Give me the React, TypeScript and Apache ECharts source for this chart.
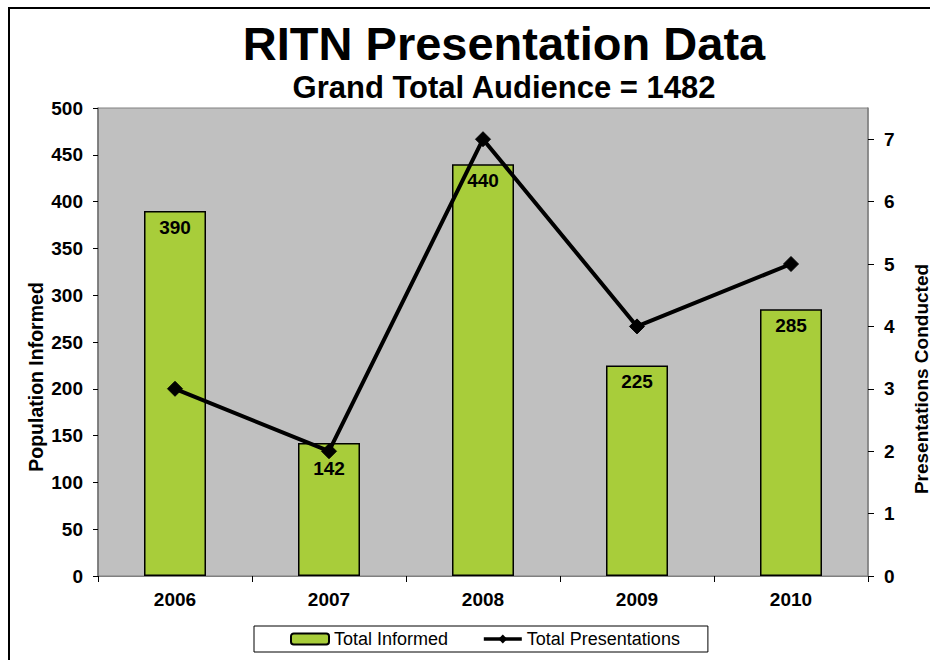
import React, { useEffect, useRef } from "react";
import * as echarts from "echarts";

const categories = ["2006", "2007", "2008", "2009", "2010"];
const totalInformed = [390, 142, 440, 225, 285];
const totalPresentations = [3, 2, 7, 4, 5];
const rightTicks = [0, 1, 2, 3, 4, 5, 6, 7];

const FONT = "'Liberation Sans', Arial, sans-serif";

export default function App() {
  const ref = useRef<HTMLDivElement>(null);
  useEffect(() => {
    if (!ref.current) return;
    const chart = echarts.init(ref.current, undefined, { renderer: "svg" });
    const option: any = {
      animation: false,
      backgroundColor: "#ffffff",
      textStyle: { fontFamily: FONT, color: "#000" },
      grid: {
        left: 98,
        right: 62,
        top: 108,
        bottom: 84,
        show: true,
        backgroundColor: "#c0c0c0",
        borderColor: "#808080",
        borderWidth: 1,
      },
      legend: {
        left: 254,
        top: 626,
        orient: "horizontal",
        borderColor: "#000",
        borderWidth: 1,
        padding: [4, 28, 4, 36],
        itemWidth: 38,
        itemHeight: 11,
        itemGap: 34,
        textStyle: { fontSize: 18, fontFamily: FONT, color: "#000" },
        data: [
          { name: "Total Informed" },
          { name: "Total Presentations", lineStyle: { width: 3.5, color: "#000" } },
        ],
      },
      xAxis: {
        type: "category",
        data: categories,
        boundaryGap: true,
        axisLine: { show: true, lineStyle: { color: "#808080", width: 1 } },
        axisTick: { show: true, length: 6, lineStyle: { color: "#000" } },
        axisLabel: { fontSize: 19, fontWeight: "bold", color: "#000", margin: 14, fontFamily: FONT },
        splitLine: { show: false },
      },
      yAxis: [
        {
          type: "value",
          min: 0,
          max: 500,
          interval: 50,
          position: "left",
          axisLine: { show: true, lineStyle: { color: "#707070", width: 1.5 } },
          axisTick: { show: true, length: 5, lineStyle: { color: "#000" } },
          axisLabel: { fontSize: 19, fontWeight: "bold", color: "#000", margin: 15, fontFamily: FONT },
          splitLine: { show: false },
        },
        {
          type: "value",
          min: 0,
          max: 7.5,
          position: "right",
          axisLine: { show: true, lineStyle: { color: "#808080", width: 1.5 } },
          axisTick: { show: true, length: 6, lineStyle: { color: "#000" }, customValues: rightTicks },
          axisLabel: { fontSize: 19, fontWeight: "bold", color: "#000", margin: 16, fontFamily: FONT, customValues: rightTicks },
          splitLine: { show: false },
        },
      ],
      series: [
        {
          name: "Total Informed",
          type: "bar",
          yAxisIndex: 0,
          barWidth: 62,
          data: totalInformed.map((v, i) =>
            i === 1 ? { value: v, label: { distance: 16 } } : v
          ),
          itemStyle: { color: "#a8cd3a", borderColor: "#000", borderWidth: 1.5 },
          label: {
            show: true,
            position: "insideTop",
            distance: 7,
            fontSize: 19,
            fontWeight: "bold",
            color: "#000",
            fontFamily: FONT,
          },
          z: 2,
        },
        {
          name: "Total Presentations",
          type: "line",
          yAxisIndex: 1,
          data: totalPresentations,
          symbol: "diamond",
          symbolSize: 15,
          lineStyle: { color: "#000", width: 4 },
          itemStyle: { color: "#000", borderColor: "#000" },
          z: 5,
        },
      ],
      graphic: [
        {
          type: "rect",
          shape: { x: 9, y: 8, width: 1000, height: 1000 },
          style: { fill: "none", stroke: "#000", lineWidth: 2 },
          silent: true,
        },
        {
          type: "text",
          x: 504,
          y: 43,
          style: {
            text: "RITN Presentation Data",
            fontSize: 47,
            fontWeight: "bold",
            fontFamily: FONT,
            fill: "#000",
            align: "center",
            verticalAlign: "middle",
          },
        },
        {
          type: "text",
          x: 504,
          y: 87,
          style: {
            text: "Grand Total Audience = 1482",
            fontSize: 31,
            fontWeight: "bold",
            fontFamily: FONT,
            fill: "#000",
            align: "center",
            verticalAlign: "middle",
          },
        },
        {
          type: "text",
          x: 36,
          y: 377,
          rotation: Math.PI / 2,
          style: {
            text: "Population Informed",
            fontSize: 19.5,
            fontWeight: "bold",
            fontFamily: FONT,
            fill: "#000",
            align: "center",
            verticalAlign: "middle",
          },
        },
        {
          type: "text",
          x: 921,
          y: 379,
          rotation: Math.PI / 2,
          style: {
            text: "Presentations Conducted",
            fontSize: 19,
            fontWeight: "bold",
            fontFamily: FONT,
            fill: "#000",
            align: "center",
            verticalAlign: "middle",
          },
        },
      ],
    };
    chart.setOption(option);
    return () => chart.dispose();
  }, []);
  return (
    <div
      ref={ref}
      style={{ position: "absolute", left: 0, top: 0, width: 930, height: 660 }}
    />
  );
}
